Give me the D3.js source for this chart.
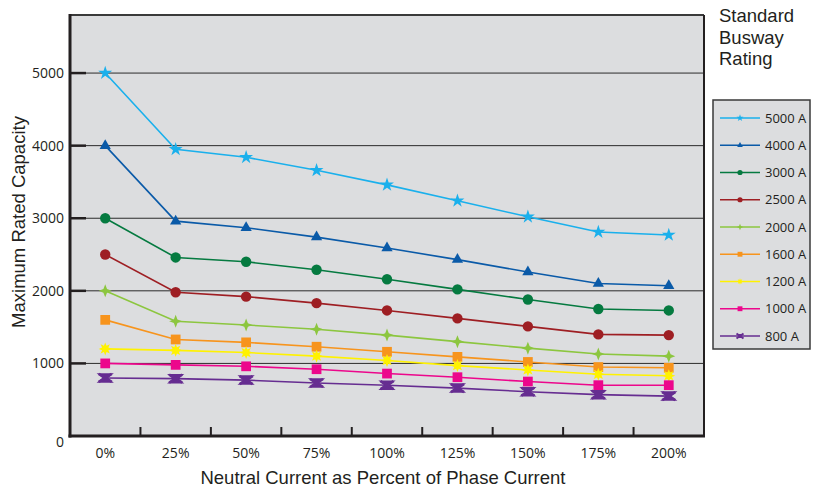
<!DOCTYPE html>
<html><head><meta charset="utf-8">
<script src="https://cdn.jsdelivr.net/npm/d3@7"></script>
<style>body{margin:0;background:#fff}svg{display:block}</style>
</head><body>
<svg id="c" width="817" height="489"></svg>
<script>
const categories = ["0%","25%","50%","75%","100%","125%","150%","175%","200%"];
const seriesNames = ["5000 A","4000 A","3000 A","2500 A","2000 A","1600 A","1200 A","1000 A","800 A"];
const s5000 = [5000,3950,3840,3660,3460,3240,3020,2810,2770];
const s4000 = [4000,2960,2870,2740,2590,2430,2260,2100,2070];
const s3000 = [3000,2460,2400,2290,2160,2020,1880,1750,1730];
const s2500 = [2500,1980,1920,1830,1730,1620,1510,1400,1390];
const s2000 = [2000,1580,1530,1470,1390,1300,1210,1130,1100];
const s1600 = [1600,1330,1290,1230,1160,1090,1020,950,940];
const s1200 = [1200,1180,1150,1100,1040,970,910,850,830];
const s1000 = [1000,980,960,920,860,810,750,700,700];
const s800  = [800,790,770,730,700,660,610,570,550];
const yTicks = [0,1000,2000,3000,4000,5000];

const seriesValues = [s5000,s4000,s3000,s2500,s2000,s1600,s1200,s1000,s800];
const colors = ["#1ab0ec","#0a5aa8","#057a40","#9e1e23","#8cc63f","#f7941d","#fff200","#ec078c","#662d91"];
const markers = ["star","triangle","circle","circle","spark","square","burst","square","x"];

const svg = d3.select("#c");
const L=70, R=704, T=15, B=436;
const x = d3.scaleBand().domain(categories).range([L,R]).padding(0);
const y = d3.scaleLinear().domain([0,5800]).range([B,T]);
const cx = d => x(d)+x.bandwidth()/2;
const tickFont = "'Open Sans', sans-serif";
const tf = "'Liberation Sans', Arial, sans-serif";

// background
svg.append("rect").attr("x",L).attr("y",T).attr("width",R-L).attr("height",B-T).attr("fill","#dcdddf");

// gridlines
svg.append("g").selectAll("line").data(yTicks.filter(d=>d>0)).join("line")
  .attr("x1",L).attr("x2",R).attr("y1",d=>y(d)).attr("y2",d=>y(d))
  .attr("stroke","#2b2b2b").attr("stroke-width",1);

// y axis ticks and labels
const yAxis = svg.append("g").attr("transform",`translate(${L},0)`)
  .call(d3.axisLeft(y).tickValues(yTicks).tickSize(0).tickPadding(6).tickFormat(d3.format("d")));
yAxis.select(".domain").remove();
yAxis.selectAll("text").attr("font-family",tickFont).attr("font-size",14).attr("fill","#231f20");
yAxis.selectAll(".tick").filter(d=>d===0).select("text").attr("dy","0.75em");
svg.append("g").selectAll("line").data(yTicks.filter(d=>d>0)).join("line")
  .attr("x1",L).attr("x2",L+16).attr("y1",d=>y(d)).attr("y2",d=>y(d))
  .attr("stroke","#231f20").attr("stroke-width",2.5);

// x axis
const xAxis = svg.append("g").attr("transform",`translate(0,${B})`)
  .call(d3.axisBottom(x).tickSize(0).tickPadding(12));
xAxis.select(".domain").remove();
xAxis.selectAll("text").attr("font-family",tickFont).attr("font-size",14).attr("fill","#231f20");
svg.append("g").selectAll("line").data(categories.slice(1)).join("line")
  .attr("x1",d=>x(d)).attr("x2",d=>x(d)).attr("y1",B).attr("y2",B-9)
  .attr("stroke","#231f20").attr("stroke-width",2);

// frame
svg.append("line").attr("x1",L).attr("x2",R).attr("y1",T).attr("y2",T).attr("stroke","#3a3a3a").attr("stroke-width",2);
svg.append("line").attr("x1",R).attr("x2",R).attr("y1",T).attr("y2",B).attr("stroke","#231f20").attr("stroke-width",2);
svg.append("line").attr("x1",L).attr("x2",L).attr("y1",T-1).attr("y2",B+1.5).attr("stroke","#231f20").attr("stroke-width",3);
svg.append("line").attr("x1",L-1.5).attr("x2",R+1).attr("y1",B).attr("y2",B).attr("stroke","#231f20").attr("stroke-width",3);

// markers
function markerPath(type, s){
  if(type==="star") return d3.symbol(d3.symbolStar, 60*s*s)();
  if(type==="triangle") return d3.symbol(d3.symbolTriangle, 55*s*s)();
  if(type==="circle") return d3.symbol(d3.symbolCircle, 85*s*s)();
  if(type==="square") return d3.symbol(d3.symbolSquare, 95*s*s)();
  if(type==="spark"){
    const r=6.5*s, w=1.8*s;
    return `M0,${-r}L${w},${-w}L${r},0L${w},${w}L0,${r}L${-w},${w}L${-r},0L${-w},${-w}Z`;
  }
  if(type==="burst"){
    let d="";
    for(let i=0;i<16;i++){
      const a=i*Math.PI/8 - Math.PI/2, rr=(i%2===0?6.5:3.4)*s;
      d+=(i===0?"M":"L")+(rr*Math.cos(a)).toFixed(2)+","+(rr*Math.sin(a)).toFixed(2);
    }
    return d+"Z";
  }
  if(type==="x"){
    const a=6.5*s,b=4*s;
    return `M${-a},${-b}L${a},${-b}L${1.5*s},0L${a},${b}L${-a},${b}L${-1.5*s},0Z`;
  }
}

const line = d3.line().x((d,i)=>cx(categories[i])).y(d=>y(d));
seriesValues.forEach((vals,k)=>{
  const g = svg.append("g");
  g.append("path").datum(vals).attr("d",line).attr("fill","none").attr("stroke",colors[k]).attr("stroke-width",1.6);
  g.selectAll("path.m").data(vals).join("path").attr("class","m")
    .attr("transform",(d,i)=>`translate(${cx(categories[i])},${y(d)})`)
    .attr("d",markerPath(markers[k],1))
    .attr("fill",colors[k])
    .attr("stroke",markers[k]==="x"?colors[k]:"none")
    .attr("stroke-width",markers[k]==="x"?1.5:0);
  if(markers[k]==="x"){
    g.selectAll("path.mx").data(vals).join("path").attr("class","mx")
      .attr("transform",(d,i)=>`translate(${cx(categories[i])},${y(d)})`)
      .attr("d","M-6.5,-4L6.5,4M-6.5,4L6.5,-4").attr("stroke",colors[k]).attr("stroke-width",2.6);
  }
});

// axis titles
svg.append("text").attr("x",383).attr("y",484).attr("text-anchor","middle")
  .attr("font-family",tf).attr("font-size",18.5).attr("fill","#231f20")
  .text("Neutral Current as Percent of Phase Current");
svg.append("text").attr("transform","translate(25,222) rotate(-90)").attr("text-anchor","middle")
  .attr("font-family",tf).attr("font-size",18.5).attr("fill","#231f20")
  .text("Maximum Rated Capacity");

// legend title
const lt = svg.append("text").attr("font-family",tf).attr("font-size",18.5).attr("fill","#231f20");
["Standard","Busway","Rating"].forEach((t,i)=>lt.append("tspan").attr("x",719).attr("y",22+i*21.5).text(t));

// legend
const LX=713, LY=100;
svg.append("rect").attr("x",LX).attr("y",LY).attr("width",97).attr("height",249)
  .attr("fill","#dcdddf").attr("stroke","#3a3a3a").attr("stroke-width",1.5);
const lg = svg.append("g").selectAll("g").data(seriesNames).join("g")
  .attr("transform",(d,i)=>`translate(${LX},${118+i*27.25})`);
lg.append("line").attr("x1",7).attr("x2",47).attr("stroke",(d,i)=>colors[i]).attr("stroke-width",1.6);
lg.append("path").attr("transform","translate(27,0)")
  .attr("d",(d,i)=>markerPath(markers[i],0.5)).attr("fill",(d,i)=>colors[i]);
lg.filter((d,i)=>markers[i]==="x").append("path").attr("transform","translate(27,0)")
  .attr("d","M-3.5,-2.5L3.5,2.5M-3.5,2.5L3.5,-2.5").attr("stroke",colors[8]).attr("stroke-width",2);
lg.append("text").attr("x",52).attr("dy","0.35em").attr("font-family",tickFont)
  .attr("font-size",13).attr("fill","#231f20").text(d=>d);
</script>
</body></html>
